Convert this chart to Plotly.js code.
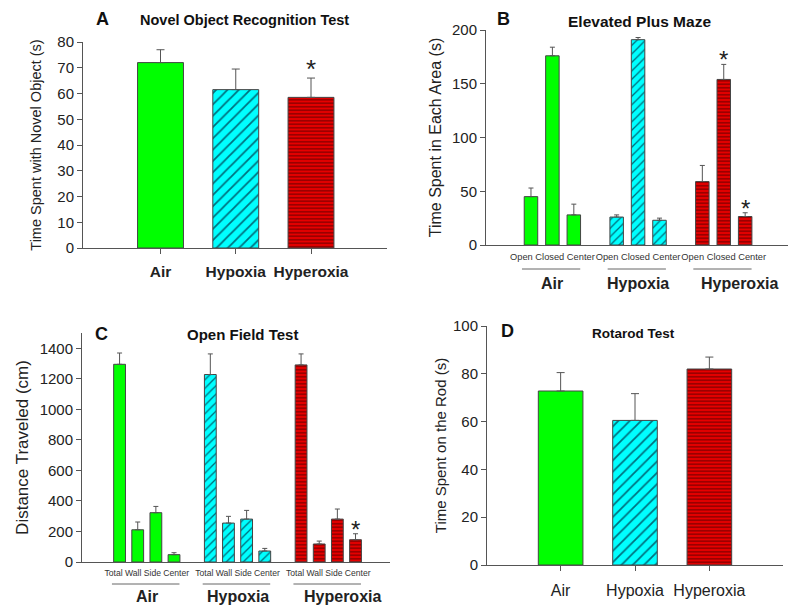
<!DOCTYPE html>
<html><head><meta charset="utf-8">
<script src="https://cdn.plot.ly/plotly-3.0.1.min.js"></script>
<style>html,body{margin:0;padding:0;background:#fff}</style>
</head><body><div id="chart" style="width:800px;height:616px"></div>
<script>
// ---------- DATA ----------
const groups = ['Air', 'Hypoxia', 'Hyperoxia'];

// A: Novel Object Recognition Test
const novelValues = [72, 61.5, 58.5];
const novelErrors = [5, 8, 7.5];
const novelSignificant = [false, false, true];

// B: Elevated Plus Maze
const epmAreas = ['Open', 'Closed', 'Center'];
const epmAir = [45, 176, 28];
const epmAirErr = [8, 8, 10];
const epmHypoxia = [26, 191, 23];
const epmHypoxiaErr = [2, 2, 2];
const epmHyperoxia = [59, 154, 26.5];
const epmHyperoxiaErr = [15, 14, 3.5];
const epmSignificant = [[false, false, false], [false, false, false], [false, true, true]];

// C: Open Field Test
const ofAreas = ['Total', 'Wall', 'Side', 'Center'];
const ofAir = [1295, 211, 323, 48];
const ofAirErr = [74, 51, 41, 13];
const ofHypoxia = [1228, 255, 281, 72];
const ofHypoxiaErr = [135, 44, 57, 17];
const ofHyperoxia = [1291, 118, 281, 146];
const ofHyperoxiaErr = [72, 19, 66, 39];
const ofSignificant = [[false, false, false, false], [false, false, false, false], [false, false, false, true]];

// D: Rotarod Test
const rotarodValues = [72.8, 60.5, 82];
const rotarodErrors = [7.7, 11.2, 5];

// ---------- STYLE ----------
const FONT = 'Arial, "Liberation Sans", sans-serif';
const AXC = '#555';
const fills = ['#00ff00', '#00ffff', '#e60000'];
function patternFor(g, hatchSize, lineSize) {
  if (g === 1) return {shape: '/', fgcolor: '#00707e', bgcolor: fills[1], size: hatchSize, solidity: 0.22};
  if (g === 2) return {shape: '-', fgcolor: '#7a0000', bgcolor: fills[2], size: lineSize, solidity: 0.35};
  return {shape: ''};
}
function errBar(err, w) {
  return {type: 'data', symmetric: false, array: err, arrayminus: err.map(() => 0),
          color: '#555', thickness: 1, width: w, visible: true};
}

const traces = [];
const annotations = [];
const shapes = [];

// ----- Panel A / D (simple) -----
function simplePanel(vals, errs, sig, xa, ya, width, hatch) {
  vals.forEach((v, g) => {
    traces.push({type: 'bar', x: [g], y: [v], xaxis: xa, yaxis: ya, width: width,
      marker: {color: fills[g], line: {color: '#444', width: 1}, pattern: patternFor(g, hatch, 3.5)},
      error_y: errBar([errs[g]], 4), hoverinfo: 'y'});
    if (sig && sig[g]) {
      annotations.push({xref: xa, yref: ya, x: g, y: v + errs[g], text: '*', showarrow: false,
        yanchor: 'bottom', yshift: -8, font: {family: FONT, size: 26, color: '#222'}});
    }
  });
}

// ----- Panel B / C (grouped, numeric positions) -----
// Sub-area labels are written as one line per group, centred under the group (as in the source figure).
function groupedPanel(seriesList, errList, sigList, areas, xa, ya, width, hatch) {
  const n = areas.length;
  const tickvals = [], ticktext = [];
  seriesList.forEach((vals, g) => {
    const xs = vals.map((_, i) => g * (n + 1) + i);
    tickvals.push((xs[0] + xs[n - 1]) / 2);
    ticktext.push(areas.join(' '));
    traces.push({type: 'bar', x: xs, y: vals, xaxis: xa, yaxis: ya, width: width,
      marker: {color: fills[g], line: {color: '#444', width: 1}, pattern: patternFor(g, hatch, 3.5)},
      error_y: errBar(errList[g], 2.5), hoverinfo: 'y'});
    sigList[g].forEach((s, i) => {
      if (s) annotations.push({xref: xa, yref: ya, x: xs[i], y: vals[i] + errList[g][i], text: '*',
        showarrow: false, yanchor: 'bottom', yshift: -11, font: {family: FONT, size: 24, color: '#222'}});
    });
  });
  return {tickvals, ticktext, n};
}

simplePanel(novelValues, novelErrors, novelSignificant, 'x', 'y', 0.61, 8);
const tB = groupedPanel([epmAir, epmHypoxia, epmHyperoxia], [epmAirErr, epmHypoxiaErr, epmHyperoxiaErr],
  epmSignificant, epmAreas, 'x2', 'y2', 0.63, 6);
const tC = groupedPanel([ofAir, ofHypoxia, ofHyperoxia], [ofAirErr, ofHypoxiaErr, ofHyperoxiaErr],
  ofSignificant, ofAreas, 'x3', 'y3', 0.65, 6);
simplePanel(rotarodValues, rotarodErrors, null, 'x4', 'y4', 0.6, 8);

// group labels + underline for B and C
function groupLabels(t, xa, lineY, labelY, shift) {
  groups.forEach((name, g) => {
    const start = g * (t.n + 1), end = start + t.n - 1;
    shapes.push({type: 'line', xref: xa, yref: 'paper', x0: start - 0.42, x1: end + 0.3,
      y0: lineY, y1: lineY, line: {color: '#666', width: 1}});
    annotations.push({xref: xa, yref: 'paper', x: (start + end) / 2, y: labelY, text: name,
      showarrow: false, xshift: g === 2 ? shift : 0, xanchor: 'center', yanchor: 'middle',
      font: {family: FONT, size: 16, color: '#222', weight: 'bold'}});
  });
}
groupLabels(tB, 'x2', 1 - 269 / 616, 1 - 283 / 616, 16);
groupLabels(tC, 'x3', 1 - 584 / 616, 1 - 596 / 616, 14);

// panel titles
function paperText(text, px, py, size) {
  annotations.push({xref: 'paper', yref: 'paper', x: px / 800, y: 1 - py / 616, text: text,
    showarrow: false, xanchor: 'center', yanchor: 'middle',
    font: {family: FONT, size: size, color: '#111', weight: 'bold'}});
}
paperText('A', 102, 19, 18); paperText('Novel Object Recognition Test', 244, 20, 14.5);
paperText('B', 503, 19, 18); paperText('Elevated Plus Maze', 639, 22, 15.5);
paperText('C', 101, 334, 18); paperText('Open Field Test', 242, 334, 15);
paperText('D', 507, 331, 18); paperText('Rotarod Test', 633, 333, 13.5);

function xAxis(dom, range, extra) {
  return Object.assign({domain: [dom[0] / 800, dom[1] / 800], range: range, showline: true,
    linecolor: AXC, linewidth: 1, showgrid: false, zeroline: false, fixedrange: true, tickangle: 0}, extra);
}
function yAxis(dom, range, title, titleSize, standoff, extra) {
  return Object.assign({domain: [1 - dom[1] / 616, 1 - dom[0] / 616], range: range, showline: true,
    linecolor: AXC, linewidth: 1, showgrid: false, zeroline: false, ticks: 'outside', ticklen: 5,
    tickcolor: AXC, tickfont: {family: FONT, size: 15, color: '#222'},
    title: {text: title, standoff: standoff, font: {family: FONT, size: titleSize, color: '#222'}}}, extra);
}

const layout = {
  width: 800, height: 616, margin: {l: 0, r: 0, t: 0, b: 0},
  paper_bgcolor: '#fff', plot_bgcolor: 'rgba(0,0,0,0)', showlegend: false,
  font: {family: FONT, color: '#222'},
  xaxis: xAxis([83, 387], [-1.03, 3.01], {anchor: 'y', tickvals: [0, 1, 2], ticktext: groups,
    ticks: 'outside', ticklen: 5, tickcolor: AXC, ticklabelstandoff: 4,
    tickfont: {family: FONT, size: 15.5, color: '#222', weight: 'bold'}}),
  yaxis: yAxis([42, 248], [0, 80], 'Time Spent with Novel Object (s)', 14.5, 12, {anchor: 'x', dtick: 10}),
  xaxis2: xAxis([486, 788], [-2.1, 12], {anchor: 'y2', tickvals: tB.tickvals, ticktext: tB.ticktext,
    ticks: '', ticklabelstandoff: 3, tickfont: {family: FONT, size: 9.3, color: '#333'}}),
  yaxis2: yAxis([30, 245], [0, 200], 'Time Spent in Each Area (s)', 16, 6, {anchor: 'x2', dtick: 50}),
  xaxis3: xAxis([82, 390], [-2.07, 14.9], {anchor: 'y3', tickvals: tC.tickvals, ticktext: tC.ticktext,
    ticks: '', ticklabelstandoff: 3, tickfont: {family: FONT, size: 8.6, color: '#333'}}),
  yaxis3: yAxis([333, 562], [0, 1500], 'Distance Traveled (cm)', 17, 6,
    {anchor: 'x3', tickvals: [0, 200, 400, 600, 800, 1000, 1200, 1400]}),
  xaxis4: xAxis([487, 783], [-0.99, 2.99], {anchor: 'y4', tickvals: [0, 1, 2], ticktext: groups,
    ticks: 'outside', ticklen: 5, tickcolor: AXC, ticklabelstandoff: 6,
    tickfont: {family: FONT, size: 16, color: '#222'}}),
  yaxis4: yAxis([326, 565], [0, 100], 'Time Spent on the Rod (s)', 15, 2, {anchor: 'x4', dtick: 20}),
  annotations: annotations, shapes: shapes
};

Plotly.newPlot('chart', traces, layout, {staticPlot: true, displayModeBar: false});
</script></body></html>
